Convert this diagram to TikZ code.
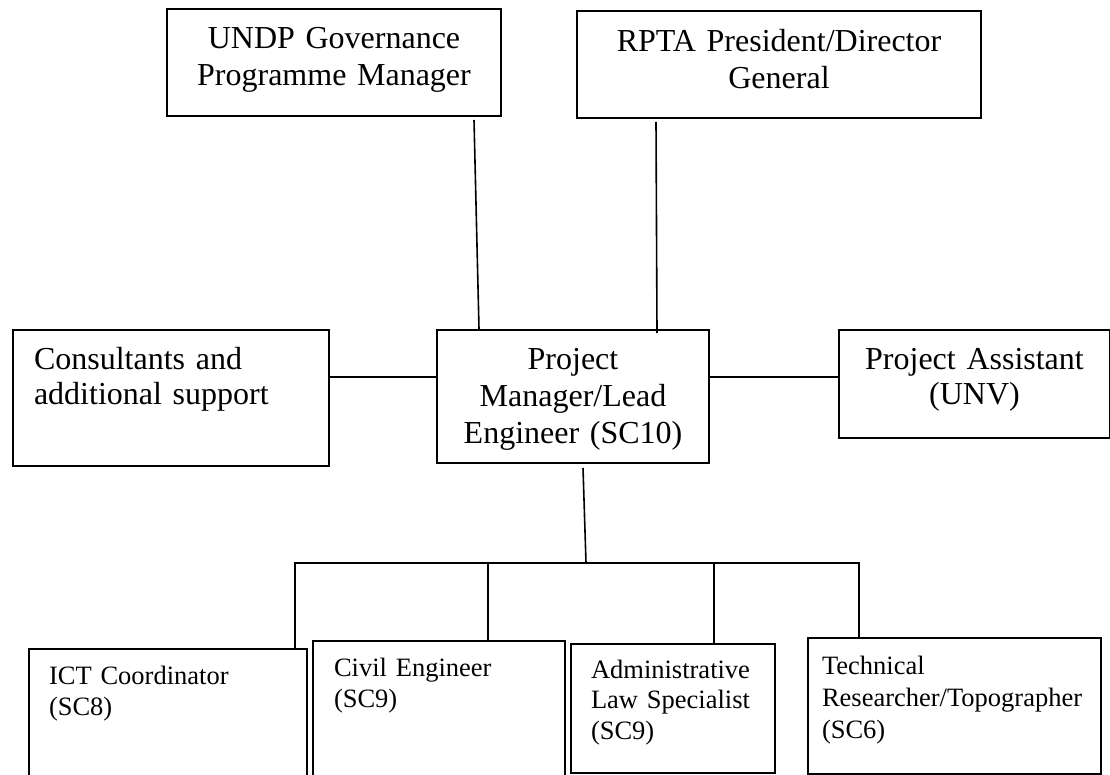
\documentclass[tikz,border=0pt]{standalone}
\usepackage{fontspec}
\setmainfont{Liberation Serif}

\begin{document}
\begin{tikzpicture}[x=1pt,y=-1pt,
    box/.style={draw,line width=2pt,anchor=north west,inner ysep=0pt,inner xsep=20pt},
    bigbox/.style={box,align=center,font=\fontsize{32}{37}\selectfont},
    smallbox/.style={box,align=left,font=\fontsize{26.5}{31.5}\selectfont},
    link/.style={line width=1.6pt}]
  \useasboundingbox (0,0) rectangle (1110,775);
  \clip (0,0) rectangle (1110,775);
  \node[bigbox,text width=294pt,text height=40pt,text depth=67pt] (undp) at (166,8)
    {UNDP Governance\\Programme Manager};
  \node[bigbox,text width=364pt,text height=41pt,text depth=66pt] (rpta) at (576,10)
    {RPTA President/Director\\General};
  \node[bigbox,text width=232pt,text height=39pt,text depth=94pt] (pm) at (436,329)
    {Project\\Manager/Lead\\Engineer (SC10)};
  \node[bigbox,align=left,inner xsep=21pt,text width=274pt,text height=39pt,text depth=97pt,
    font=\fontsize{32}{35}\selectfont] (cons) at (12,329)
    {Consultants and\\additional support};
  \node[bigbox,text width=231pt,text height=39pt,text depth=69pt,
    font=\fontsize{32}{35}\selectfont] (pa) at (838,329)
    {Project Assistant\\(UNV)};
  \node[smallbox,text width=238pt,text height=35pt,text depth=117pt] (ict) at (28,648)
    {ICT Coordinator\\(SC8)};
  \node[smallbox,inner xsep=21pt,text width=210pt,text height=35pt,text depth=125pt] (civil) at (312,640)
    {Civil Engineer\\(SC9)};
  \node[smallbox,text width=164pt,text height=34pt,text depth=95pt,
    font=\fontsize{26.5}{30.5}\selectfont] (admin) at (570,643)
    {Administrative\\Law Specialist\\(SC9)};
  \node[smallbox,inner xsep=14pt,text width=265pt,text height=36pt,text depth=100pt,
    font=\fontsize{26.5}{32}\selectfont] (tech) at (807,637)
    {Technical\\Researcher/Topographer\\(SC6)};
  \coordinate (bus) at (586,563);
  \draw[link] ([xshift=140pt,yshift=-3pt]undp.south) -- ([xshift=-94pt]pm.north);
  \draw[link] ([xshift=-123pt,yshift=-3pt]rpta.south) -- ([xshift=84pt,yshift=-4pt]pm.north);
  \draw[link] ([yshift=21pt]cons.east) -- ([yshift=19.5pt]pm.west);
  \draw[link] ([yshift=19.5pt]pm.east) -- ([yshift=7pt]pa.west);
  \draw[link] ([xshift=10pt,yshift=-4pt]pm.south) -- (bus);
  \draw[link] ([xshift=127pt]ict.north) |- (bus) -| ([xshift=-95.5pt]tech.north);
  \draw[link] ([xshift=49pt]civil.north) |- (bus);
  \draw[link] ([xshift=41pt]admin.north) |- (bus);
\end{tikzpicture}
\end{document}
